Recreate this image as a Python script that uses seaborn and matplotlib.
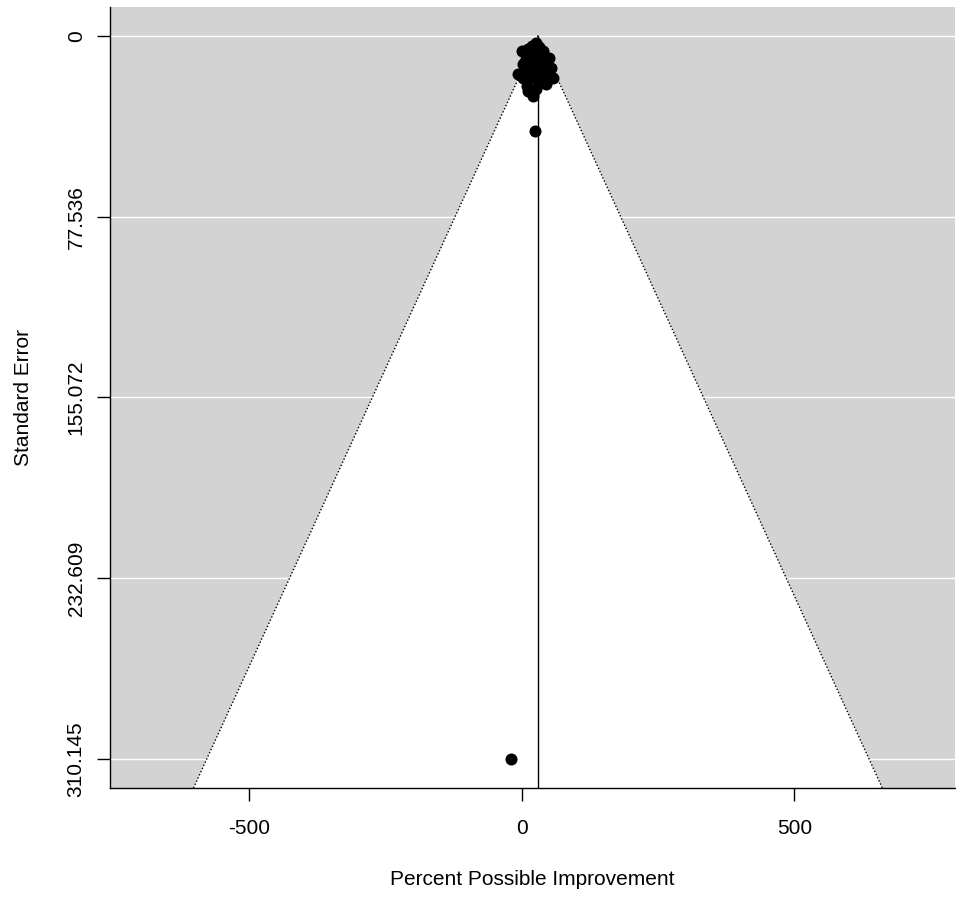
import numpy as np
import pandas as pd
import matplotlib
matplotlib.use("Agg")
import matplotlib.pyplot as plt
import seaborn as sns

# Data
effect = [25.6, 18.3, 31.1, 11.0, 0.0, 38.5, 22.0, 49.5, 31.1, 7.3,
          16.5, 40.3, 1.8, 23.8, 53.1, 9.2, 33.0, -7.3, 44.0, 18.3,
          1.8, 56.8, 29.3, 44.0, 9.2, 25.6, 11.0, 20.1, 23.8, -20.1]
std_err = [3.0, 4.3, 4.7, 5.6, 6.4, 6.4, 7.3, 9.4, 9.4, 9.9,
           11.1, 12.0, 12.0, 13.3, 13.7, 15.0, 15.4, 16.3, 17.1, 17.6,
           18.0, 18.0, 19.3, 20.6, 21.4, 22.7, 23.6, 25.7, 40.7, 310.145]
pooled_estimate = 29.4
y_ticks = [0, 77.536, 155.072, 232.609, 310.145]
y_tick_labels = ["0", "77.536", "155.072", "232.609", "310.145"]
x_ticks = [-500, 0, 500]
x_tick_labels = ["-500", "0", "500"]

df = pd.DataFrame({"effect": effect, "se": std_err})

sns.set_theme(style="white")
plt.rcParams["font.family"] = ["Liberation Sans", "DejaVu Sans"]
plt.rcParams["text.color"] = "black"
plt.rcParams["axes.labelcolor"] = "black"
plt.rcParams["xtick.color"] = "black"
plt.rcParams["ytick.color"] = "black"

fig = plt.figure(figsize=(9.56, 8.97), dpi=100)
ax = fig.add_axes([110/956, 1-788/897, (955-110)/956, (788-7)/897])

ymax = max(y_ticks)
ylim_bottom = ymax * 1.04
ylim_top = -ymax * 0.04
xlim = (-756, 795)

ax.set_facecolor("lightgray")
for yt in y_ticks:
    ax.axhline(yt, color="white", lw=1.0, zorder=1)

se_max = ylim_bottom
lo = pooled_estimate - 1.96 * se_max
hi = pooled_estimate + 1.96 * se_max
ax.fill([lo, pooled_estimate, hi], [se_max, 0, se_max], color="white", zorder=2, lw=0)
ax.plot([lo, pooled_estimate, hi], [se_max, 0, se_max], color="black", lw=1.0,
        linestyle=(0, (1, 1.5)), zorder=3)
ax.plot([pooled_estimate, pooled_estimate], [0, se_max], color="black", lw=1.0, zorder=3)

sns.scatterplot(data=df, x="effect", y="se", ax=ax, color="black", s=75,
                edgecolor="black", linewidth=0, zorder=4, legend=False)

ax.set_xlim(*xlim)
ax.set_ylim(ylim_bottom, ylim_top)

ax.set_yticks(y_ticks)
ax.set_yticklabels(y_tick_labels, rotation=90, va="center", fontsize=15)
ax.set_xticks(x_ticks)
ax.set_xticklabels(x_tick_labels, fontsize=15)
ax.tick_params(axis="both", which="both", direction="out", length=9.5, width=1.0,
               color="black", labelcolor="black", left=True, bottom=True)
ax.tick_params(axis="y", pad=8)
ax.tick_params(axis="x", pad=13)

for side in ["top", "right"]:
    ax.spines[side].set_visible(False)
for side in ["left", "bottom"]:
    ax.spines[side].set_color("black")
    ax.spines[side].set_linewidth(1.0)

ax.set_xlabel("Percent Possible Improvement", fontsize=15, labelpad=23, color="black")
ax.set_ylabel("Standard Error", fontsize=15, labelpad=24, color="black")

fig.savefig("out.png", dpi=100)
